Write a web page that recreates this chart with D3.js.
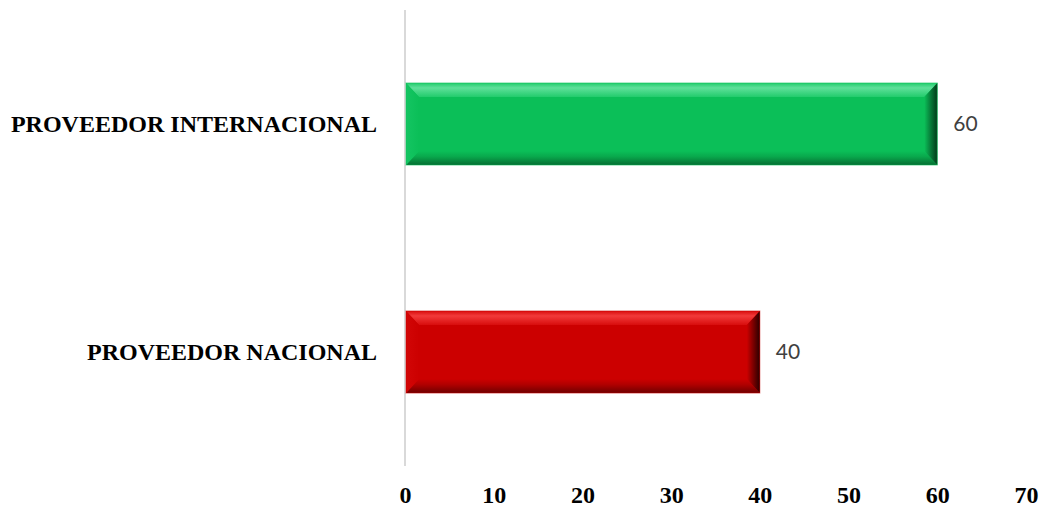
<!DOCTYPE html>
<html><head><meta charset="utf-8">
<script src="https://cdn.jsdelivr.net/npm/d3@7"></script>
<style>html,body{margin:0;padding:0;background:#fff;}svg{display:block;}</style>
</head><body>
<svg id="chart" width="1043" height="508"></svg>
<script>
const categories = ["PROVEEDOR INTERNACIONAL", "PROVEEDOR NACIONAL"];
const values = [60, 40];
const tickValues = [0, 10, 20, 30, 40, 50, 60, 70];
const barColors = ["green", "red"];

const palettes = {
  green: {main:"#0bbf58", top:"#22cc6c", topEdge:"#5fe09a", left:"#14c562", bottom:"#09a84c", bottomEdge:"#066d32", right:"#077a38", rightEdge:"#023a19"},
  red:   {main:"#cc0000", top:"#d80d0d", topEdge:"#f23a3a", left:"#d20606", bottom:"#b00000", bottomEdge:"#6e0000", right:"#7a0000", rightEdge:"#2a0000"}
};

const svg = d3.select("#chart");
const x = d3.scaleLinear().domain([0, 70]).range([405, 1026]);
const y = d3.scaleBand().domain(categories).range([10, 466]).paddingInner(0.64).paddingOuter(0.32);

const defs = svg.append("defs");
Object.entries(palettes).forEach(([k, p]) => {
  const gt = defs.append("linearGradient").attr("id", "top-"+k).attr("x1",0).attr("y1",0).attr("x2",0).attr("y2",1);
  gt.append("stop").attr("offset","0%").attr("stop-color", p.top);
  gt.append("stop").attr("offset","35%").attr("stop-color", p.topEdge);
  gt.append("stop").attr("offset","100%").attr("stop-color", p.top);
  const gb = defs.append("linearGradient").attr("id", "bot-"+k).attr("x1",0).attr("y1",0).attr("x2",0).attr("y2",1);
  gb.append("stop").attr("offset","0%").attr("stop-color", p.main);
  gb.append("stop").attr("offset","40%").attr("stop-color", p.bottom);
  gb.append("stop").attr("offset","100%").attr("stop-color", p.bottomEdge);
  const gr = defs.append("linearGradient").attr("id", "rgt-"+k).attr("x1",0).attr("y1",0).attr("x2",1).attr("y2",0);
  gr.append("stop").attr("offset","0%").attr("stop-color", p.main);
  gr.append("stop").attr("offset","50%").attr("stop-color", p.right);
  gr.append("stop").attr("offset","100%").attr("stop-color", p.rightEdge);
  const gl = defs.append("linearGradient").attr("id", "lft-"+k).attr("x1",0).attr("y1",0).attr("x2",1).attr("y2",0);
  gl.append("stop").attr("offset","0%").attr("stop-color", p.left);
  gl.append("stop").attr("offset","100%").attr("stop-color", p.main);
});

// axis line
svg.append("line").attr("x1", x(0)).attr("x2", x(0)).attr("y1", 10).attr("y2", 466)
  .attr("stroke", "#d9d9d9").attr("stroke-width", 2);

const bevH = 14, bevW = 13;
categories.forEach((c, i) => {
  const k = barColors[i];
  const p = palettes[k];
  const x0 = x(0) + 1, x1 = x(values[i]), y0 = y(c), y1 = y(c) + y.bandwidth();
  const g = svg.append("g");
  g.append("rect").attr("x", x0).attr("y", y0).attr("width", x1 - x0).attr("height", y1 - y0).attr("fill", p.main);
  g.append("polygon").attr("points", [[x0,y0],[x1,y0],[x1-bevW,y0+bevH],[x0+bevW,y0+bevH]].join(" ")).attr("fill", `url(#top-${k})`);
  g.append("polygon").attr("points", [[x0,y1],[x1,y1],[x1-bevW,y1-bevH],[x0+bevW,y1-bevH]].join(" ")).attr("fill", `url(#bot-${k})`);
  g.append("polygon").attr("points", [[x0,y0],[x0+bevW,y0+bevH],[x0+bevW,y1-bevH],[x0,y1]].join(" ")).attr("fill", `url(#lft-${k})`);
  g.append("polygon").attr("points", [[x1,y0],[x1-bevW,y0+bevH],[x1-bevW,y1-bevH],[x1,y1]].join(" ")).attr("fill", `url(#rgt-${k})`);
  g.append("rect").attr("x", x0).attr("y", y0).attr("width", x1 - x0).attr("height", y1 - y0)
    .attr("fill", "none").attr("stroke", p.main).attr("stroke-opacity", 0.5).attr("stroke-width", 1);
  g.append("text").attr("x", x1 + 16).attr("y", (y0 + y1) / 2).attr("dy", "0.35em")
    .attr("font-family", "Lato, 'Open Sans', sans-serif").attr("font-size", 21).attr("fill", "#404040")
    .text(values[i]);
  svg.append("text").attr("x", 377).attr("y", (y0 + y1) / 2).attr("dy", "0.35em")
    .attr("text-anchor", "end").attr("font-family", "'Liberation Serif', 'Times New Roman', serif")
    .attr("font-weight", "bold").attr("font-size", 24).attr("fill", "#000").text(c);
});

const axis = d3.axisBottom(x).tickValues(tickValues).tickSize(0).tickPadding(0);
const ax = svg.append("g").attr("transform", "translate(0,486)").call(axis);
ax.select(".domain").remove();
ax.selectAll("text").attr("font-family", "'Liberation Serif', 'Times New Roman', serif")
  .attr("font-weight", "bold").attr("font-size", 24).attr("fill", "#000");
</script>
</body></html>
